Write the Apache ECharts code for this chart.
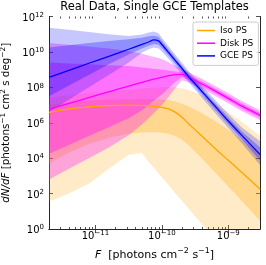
<!DOCTYPE html>
<html><head><meta charset="utf-8">
<script src="https://cdn.jsdelivr.net/npm/echarts@6/dist/echarts.min.js"></script>
<style>html,body{margin:0;padding:0;background:#fff}#c{width:266px;height:265px}</style>
</head><body><div id="c"></div>
<script>
// x grid: log10 of flux F [photons cm^-2 s^-1]
const logF = [-11.7, -11.4, -11.1, -10.8, -10.5, -10.3, -10.2, -10.12, -10.05, -10.0, -9.9, -9.8, -9.7, -9.6, -9.4, -9.2, -9.0, -8.8, -8.52];

// all y values: log10 of dN/dF
const isoMed     = [6.59, 6.78, 6.90, 6.97, 7.00, 6.98, 6.96, 6.93, 6.90, 6.87, 6.78, 6.60, 6.32, 5.95, 5.25, 4.55, 3.88, 3.20, 2.25];
const isoIn68Hi  = [7.00, 7.15, 7.25, 7.30, 7.33, 7.34, 7.34, 7.34, 7.33, 7.32, 7.28, 7.20, 7.08, 6.92, 6.55, 6.10, 5.60, 5.05, 4.30];
const isoIn68Lo  = [3.70, 4.30, 4.80, 5.15, 5.38, 5.45, 5.47, 5.47, 5.46, 5.44, 5.38, 5.25, 5.05, 4.75, 4.00, 3.20, 2.40, 1.60, 0.45];
const isoOut95Hi = [7.40, 7.55, 7.68, 7.78, 7.87, 7.93, 7.96, 7.98, 7.99, 8.00, 8.01, 8.00, 7.95, 7.85, 7.55, 7.10, 6.60, 6.05, 5.25];
const isoOut95Lo = [1.55, 2.00, 2.55, 3.40, 4.20, 4.30, 3.80, 3.46, 3.14, 2.92, 2.48, 2.04, 1.60, 1.16, 0.28, -0.60, -1.50, -2.40, -3.60];

const diskMed     = [6.76, 7.09, 7.42, 7.75, 8.07, 8.28, 8.38, 8.46, 8.52, 8.57, 8.66, 8.72, 8.73, 8.57, 8.20, 7.80, 7.38, 6.95, 6.42];
const diskIn68Hi  = [9.40, 9.35, 9.30, 9.25, 9.20, 9.12, 9.08, 9.05, 9.02, 9.00, 8.95, 8.90, 8.86, 8.71, 8.34, 7.94, 7.52, 7.09, 6.56];
const diskIn68Lo  = [4.25, 4.75, 5.25, 5.75, 6.25, 6.70, 7.00, 7.25, 7.45, 7.60, 7.95, 8.30, 8.58, 8.43, 8.06, 7.66, 7.24, 6.81, 6.28];
const diskOut95Hi = [10.50, 10.40, 10.30, 10.20, 10.05, 9.90, 9.80, 9.72, 9.65, 9.58, 9.42, 9.22, 9.03, 8.85, 8.48, 8.08, 7.66, 7.23, 6.70];
const diskOut95Lo = [2.80, 3.40, 4.00, 4.60, 5.30, 5.90, 6.25, 6.55, 6.80, 7.00, 7.45, 7.95, 8.40, 8.29, 7.92, 7.52, 7.10, 6.67, 6.14];

const gceMed     = [8.56, 8.96, 9.36, 9.75, 10.15, 10.42, 10.56, 10.68, 10.62, 10.42, 9.97, 9.52, 9.08, 8.62, 7.78, 6.94, 6.10, 5.30, 4.20];
const gceIn68Hi  = [10.25, 10.38, 10.50, 10.62, 10.72, 10.80, 10.88, 10.92, 10.85, 10.62, 10.15, 9.70, 9.24, 8.78, 7.95, 7.12, 6.30, 5.52, 4.60];
const gceIn68Lo  = [7.50, 8.10, 8.70, 9.30, 9.85, 10.20, 10.35, 10.45, 10.40, 10.22, 9.80, 9.35, 8.92, 8.46, 7.60, 6.75, 5.90, 5.08, 3.85];
const gceOut95Hi = [11.36, 11.25, 11.12, 11.00, 10.90, 10.98, 11.10, 11.15, 11.05, 10.80, 10.32, 9.86, 9.40, 8.93, 8.10, 7.30, 6.50, 5.75, 4.95];
const gceOut95Lo = [6.60, 7.30, 8.00, 8.70, 9.40, 9.95, 10.15, 10.25, 10.20, 10.02, 9.62, 9.18, 8.75, 8.30, 7.42, 6.55, 5.70, 4.85, 3.60];

const seriesNames = ['Iso PS', 'Disk PS', 'GCE PS'];
const xMajorTicks = [-11, -10, -9];
const yMajorTicks = [0, 2, 4, 6, 8, 10, 12];
const xRange = [Math.log10(2e-12), Math.log10(3e-9)];

const xMinorTicks = [];
for (let n = -12; n <= -9; n++) for (let k = 2; k <= 9; k++) {
  const v = n + Math.log10(k);
  if (v > xRange[0] && v < xRange[1]) xMinorTicks.push(v);
}

const FONT = 'DejaVu Sans';
const AX = '#262626';
const rich = {
  b: { fontSize: 10, lineHeight: 12, padding: [3, 0, 0, 0], fontFamily: FONT, color: '#000' },
  s: { fontSize: 7, lineHeight: 8, padding: [0, 0, 3, 0], fontFamily: FONT, color: '#000' }
};
function pow10(e) {
  const s = e < 0 ? '\u2212' + (-e) : '' + e;
  return '{b|10}{s|' + s + '}';
}
function nameRich(fs) {
  return {
    n: { fontSize: fs, lineHeight: 13, padding: [3, 0, 0, 0], fontFamily: FONT, color: '#000' },
    i: { fontSize: fs, lineHeight: 13, padding: [3, 0, 0, 0], fontFamily: FONT, fontStyle: 'italic', color: '#000' },
    s: { fontSize: fs * 0.72, lineHeight: 9, padding: [0, 0, 4, 0], fontFamily: FONT, color: '#000' }
  };
}

function zip(ys) { return logF.map((x, i) => [x, ys[i]]); }

function band(lo, hi, color) {
  return {
    type: 'custom', xAxisIndex: 0, yAxisIndex: 0, clip: true, silent: true,
    data: [[logF[0], lo[0]]],
    renderItem: function (params, api) {
      const pts = [];
      for (let i = 0; i < logF.length; i++) pts.push(api.coord([logF[i], hi[i]]));
      for (let i = logF.length - 1; i >= 0; i--) pts.push(api.coord([logF[i], lo[i]]));
      return { type: 'polygon', shape: { points: pts }, style: { fill: color, stroke: null } };
    }
  };
}
function line(name, ys, color) {
  return {
    name: name, type: 'line', xAxisIndex: 0, yAxisIndex: 0, data: zip(ys),
    showSymbol: false, symbol: 'none', smooth: 0.25, silent: true,
    lineStyle: { color: color, width: 1.3 }, itemStyle: { color: color }
  };
}

const ORANGE = '255,165,0', MAGENTA = '255,0,255', BLUE = '0,0,255';
const series = [
  band(isoOut95Lo, isoOut95Hi, 'rgba(' + ORANGE + ',0.22)'),
  band(isoIn68Lo, isoIn68Hi, 'rgba(' + ORANGE + ',0.28)'),
  line(seriesNames[0], isoMed, 'rgb(' + ORANGE + ')'),
  band(diskOut95Lo, diskOut95Hi, 'rgba(' + MAGENTA + ',0.3)'),
  band(diskIn68Lo, diskIn68Hi, 'rgba(' + MAGENTA + ',0.36)'),
  line(seriesNames[1], diskMed, 'rgb(' + MAGENTA + ')'),
  band(gceOut95Lo, gceOut95Hi, 'rgba(' + BLUE + ',0.22)'),
  band(gceIn68Lo, gceIn68Hi, 'rgba(' + BLUE + ',0.28)'),
  line(seriesNames[2], gceMed, 'rgb(' + BLUE + ')')
];

const gridRect = { left: 49, right: 6, top: 16.5, bottom: 36, containLabel: false, outerBoundsMode: 'none' };
function xAx(gridIndex, pos, ticks, len, withLine, withLabel) {
  return {
    type: 'value', gridIndex: gridIndex, position: pos, min: xRange[0], max: xRange[1],
    axisLine: { show: withLine, lineStyle: { color: AX, width: 1 } },
    axisTick: { show: true, inside: true, length: len, customValues: ticks, lineStyle: { color: AX, width: 0.8 } },
    axisLabel: withLabel ? { show: true, customValues: xMajorTicks, margin: 0, formatter: v => pow10(Math.round(v)), rich: rich } : { show: false },
    splitLine: { show: false }
  };
}
const xAxes = [
  Object.assign(xAx(0, 'bottom', xMajorTicks, 4, true, true), {
    name: '{i|F}{n|  [photons cm}{s|\u22122}{n| s}{s|\u22121}{n|]}',
    nameLocation: 'middle', nameGap: 12, nameTextStyle: { rich: nameRich(11) }
  }),
  xAx(0, 'top', xMajorTicks, 4, true, false),
  xAx(1, 'bottom', xMinorTicks, 2, false, false),
  xAx(1, 'top', xMinorTicks, 2, false, false)
];
const yAxes = [
  {
    type: 'value', gridIndex: 0, position: 'left', min: 0, max: 12, interval: 2,
    axisLine: { show: true, lineStyle: { color: AX, width: 1 } },
    axisTick: { show: true, inside: true, length: 4, lineStyle: { color: AX, width: 0.8 } },
    axisLabel: { margin: 5, formatter: v => pow10(Math.round(v)), rich: rich },
    splitLine: { show: false },
    name: '{i|dN/dF}{n| [photons}{s|\u22121}{n| cm}{s|2}{n| s deg}{s|\u22122}{n|]}',
    nameLocation: 'middle', nameRotate: 90, nameGap: 27, nameTextStyle: { rich: nameRich(10.3) }
  },
  {
    type: 'value', gridIndex: 0, position: 'right', min: 0, max: 12, interval: 2,
    axisLine: { show: true, lineStyle: { color: AX, width: 1 } },
    axisTick: { show: true, inside: true, length: 4, lineStyle: { color: AX, width: 0.8 } },
    axisLabel: { show: false }, splitLine: { show: false }
  },
  {
    type: 'value', gridIndex: 1, min: 0, max: 12, show: false
  }
];

const chart = echarts.init(document.getElementById('c'), null, { renderer: 'canvas' });
chart.setOption({
  animation: false,
  backgroundColor: '#fff',
  title: {
    text: 'Real Data, Single GCE Templates', left: 154.5, top: 1, padding: 0, textAlign: 'center',
    textStyle: { fontFamily: FONT, fontSize: 11.5, fontWeight: 'normal', color: '#000' }
  },
  legend: {
    data: seriesNames, orient: 'vertical', left: 193, top: 22,
    icon: 'rect', itemWidth: 18, itemHeight: 1.5, itemGap: 1.7,
    padding: [3, 5, 4, 4], borderColor: '#cccccc', borderWidth: 1, borderRadius: 2,
    backgroundColor: 'rgba(255,255,255,0.8)',
    textStyle: { fontFamily: FONT, fontSize: 9, lineHeight: 11, color: '#000' },
    selectedMode: false
  },
  grid: [Object.assign({}, gridRect), Object.assign({}, gridRect)],
  xAxis: xAxes,
  yAxis: yAxes,
  series: series
});
</script>
</body></html>
